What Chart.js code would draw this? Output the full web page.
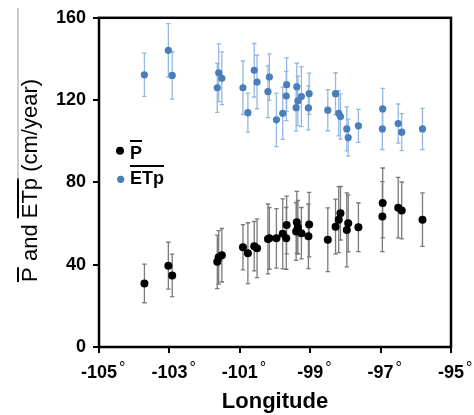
<!DOCTYPE html>
<html>
<head>
<meta charset="utf-8">
<script src="https://cdn.jsdelivr.net/npm/chart.js@4.4.1/dist/chart.umd.min.js"></script>
<style>
  html, body { margin: 0; padding: 0; background: #fff; }
  #wrap { width: 474px; height: 415px; }
</style>
</head>
<body>
<div id="wrap"><canvas id="chart" width="474" height="415"></canvas></div>
<script>
/* ---------- Data ---------- */
const longitude = [-103.71, -103.03, -102.92, -101.64, -101.60, -101.51, -100.91, -100.77, -100.59, -100.51,
  -100.20, -100.16, -99.96, -99.78, -99.67, -99.68, -99.38, -99.35, -99.40, -99.25,
  -99.03, -99.05, -98.50, -98.28, -98.19, -98.14, -97.96, -97.92, -97.63, -96.94,
  -96.95, -96.50, -96.40, -95.81];
const etpMean = [132.3, 144.2, 132.0, 126.0, 133.3, 130.6, 126.0, 113.9, 134.5, 128.8,
  124.1, 131.2, 110.4, 113.6, 127.5, 122.0, 126.5, 119.6, 116.3, 121.7,
  123.1, 116.2, 115.1, 123.1, 113.6, 112.0, 106.0, 101.8, 107.5, 115.7,
  106.0, 108.6, 104.4, 106.0];
const etpErr = [10.5, 13, 11.5, 12, 14, 12.8, 13, 9.5, 13, 13,
  12.6, 11.3, 13, 12.7, 13, 12, 11.4, 12, 11.4, 14.6,
  10, 10.7, 10, 10.2, 11, 11, 10.7, 9, 8, 10,
  10, 9.5, 9, 10];
const pMean = [30.9, 39.5, 34.8, 41.4, 43.6, 44.6, 48.5, 45.6, 49.0, 48.0,
  52.5, 52.8, 52.8, 55.0, 59.3, 52.8, 60.6, 58.2, 56.1, 55.3,
  59.5, 53.8, 52.1, 58.5, 61.9, 65.0, 56.9, 60.1, 58.2, 70.0,
  63.4, 67.7, 66.4, 61.9];
const pErr = [9.4, 11.4, 10.3, 13, 13, 13, 11, 14.8, 12, 14.3,
  17, 15, 14.5, 17, 14, 15, 15, 13, 14, 12.5,
  15.7, 15.7, 15.5, 13.4, 16, 13, 18, 13.8, 11.8, 17,
  17, 14.7, 13.8, 13];

const xTicks = [-105, -103, -101, -99, -97, -95];
const xTickLabels = ['-105', '-103', '-101', '-99', '-97', '-95'];
const yTicks = [0, 40, 80, 120, 160];

const FONT = 'Liberation Sans, Arial, Helvetica, sans-serif';
Chart.defaults.font.family = FONT;
Chart.defaults.color = '#000';

/* ---------- Error bars, drawn under the points ---------- */
const errorBars = {
  id: 'errorBars',
  beforeDatasetsDraw(chart) {
    const { ctx, scales: { x, y } } = chart;
    chart.data.datasets.forEach((ds) => {
      ctx.save();
      ctx.strokeStyle = ds.errColor;
      ctx.lineWidth = 1.3;
      ds.data.forEach((pt, i) => {
        const px = x.getPixelForValue(pt.x);
        const top = y.getPixelForValue(pt.y + ds.err[i]);
        const bot = y.getPixelForValue(pt.y - ds.err[i]);
        ctx.beginPath();
        ctx.moveTo(px, top); ctx.lineTo(px, bot);
        ctx.moveTo(px - 2.2, top); ctx.lineTo(px + 2.2, top);
        ctx.moveTo(px - 2.2, bot); ctx.lineTo(px + 2.2, bot);
        ctx.stroke();
      });
      ctx.restore();
    });
  },
};

/* ---------- Frame, y title and legend (need overlines) ---------- */
const decor = {
  id: 'decor',
  afterDraw(chart) {
    const { ctx, chartArea: a, scales: { x } } = chart;
    ctx.save();
    // box
    ctx.strokeStyle = '#000';
    ctx.lineWidth = 2.5;
    ctx.strokeRect(a.left, a.top, a.right - a.left, a.bottom - a.top);

    // small raised degree marks after the x tick numbers
    ctx.textBaseline = 'alphabetic';
    ctx.fillStyle = '#000';
    xTicks.forEach((v, i) => {
      ctx.font = 'bold 18px ' + FONT;
      const half = ctx.measureText(xTickLabels[i]).width / 2;
      ctx.font = '16px ' + FONT;
      ctx.fillText('\u00B0', x.getPixelForValue(v) + half + 2, 373);
    });

    // y title, rotated, with bars over P and ETp
    ctx.font = '22px ' + FONT;
    const title = 'P and ETp (cm/year)';
    const w = ctx.measureText(title).width;
    const wP = ctx.measureText('P').width;
    const wPre = ctx.measureText('P and ').width;
    const wEtp = ctx.measureText('ETp').width;
    ctx.save();
    ctx.translate(37, (a.top + a.bottom) / 2 - 2);
    ctx.rotate(-Math.PI / 2);
    ctx.fillText(title, -w / 2, 0);
    ctx.lineWidth = 2;
    ctx.beginPath();
    ctx.moveTo(-w / 2, -19); ctx.lineTo(-w / 2 + wP, -19);
    ctx.moveTo(-w / 2 + wPre, -19); ctx.lineTo(-w / 2 + wPre + wEtp, -19);
    ctx.stroke();
    ctx.restore();
    // faint leftover rule above the title
    ctx.strokeStyle = '#9a9a9a';
    ctx.lineWidth = 1;
    ctx.beginPath();
    ctx.moveTo(18, 8); ctx.lineTo(18, 180);
    ctx.stroke();

    // legend
    ctx.font = 'bold 18px ' + FONT;
    ctx.fillStyle = '#000';
    ctx.beginPath(); ctx.arc(120, 150.7, 4, 0, Math.PI * 2); ctx.fill();
    ctx.fillText('P', 130, 158.5);
    ctx.fillStyle = '#4a7ebb';
    ctx.beginPath(); ctx.arc(120.7, 179.3, 3.6, 0, Math.PI * 2); ctx.fill();
    ctx.fillStyle = '#000';
    ctx.fillText('ETp', 130, 183.5);
    ctx.strokeStyle = '#000';
    ctx.lineWidth = 2;
    ctx.beginPath();
    ctx.moveTo(130, 141); ctx.lineTo(130 + ctx.measureText('P').width, 141);
    ctx.moveTo(130, 166); ctx.lineTo(130 + ctx.measureText('ETp').width, 166);
    ctx.stroke();
    ctx.restore();
  },
};

/* ---------- Chart ---------- */
new Chart(document.getElementById('chart'), {
  type: 'scatter',
  data: {
    datasets: [
      {
        label: 'ETp',
        data: longitude.map((x, i) => ({ x, y: etpMean[i] })),
        err: etpErr,
        errColor: '#93b8e4',
        backgroundColor: '#4a7ebb',
        borderColor: '#4a7ebb',
        pointRadius: 3.6,
        pointBorderWidth: 0,
      },
      {
        label: 'P',
        data: longitude.map((x, i) => ({ x, y: pMean[i] })),
        err: pErr,
        errColor: '#7a7a7a',
        backgroundColor: '#000',
        borderColor: '#000',
        pointRadius: 4,
        pointBorderWidth: 0,
      },
    ],
  },
  options: {
    responsive: false,
    animation: false,
    layout: { padding: { left: 0, right: 23, top: 16, bottom: 0 } },
    plugins: { legend: { display: false }, tooltip: { enabled: false } },
    scales: {
      x: {
        type: 'linear',
        min: -105,
        max: -95,
        afterBuildTicks: (s) => { s.ticks = xTicks.map((v) => ({ value: v })); },
        afterFit: (s) => { s.height = 68; },
        ticks: {
          padding: 9,
          maxRotation: 0,
          autoSkip: false,
          font: { size: 18, weight: 'bold' },
          callback: (v) => xTickLabels[xTicks.indexOf(v)],
        },
        grid: { drawOnChartArea: false, drawTicks: true, tickLength: 6, color: '#000', lineWidth: 2 },
        border: { display: false },
        title: { display: true, text: 'Longitude', font: { size: 22, weight: 'bold' }, padding: { top: 0, bottom: 0 } },
      },
      y: {
        min: 0,
        max: 160,
        afterBuildTicks: (s) => { s.ticks = yTicks.map((v) => ({ value: v })); },
        afterFit: (s) => { s.width = 99; },
        ticks: { padding: 7, font: { size: 18, weight: 'bold' } },
        grid: { drawOnChartArea: false, drawTicks: true, tickLength: 6, color: '#000', lineWidth: 2 },
        border: { display: false },
      },
    },
  },
  plugins: [errorBars, decor],
});
</script>
</body>
</html>
